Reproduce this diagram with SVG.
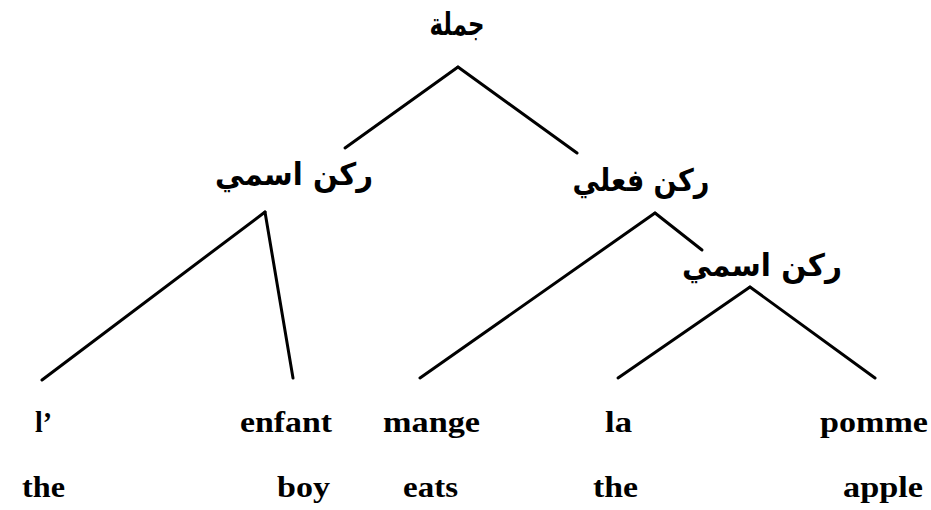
<svg xmlns="http://www.w3.org/2000/svg" width="931" height="510" viewBox="0 0 931 510">
<style>
.ar{font-family:"DejaVu Sans",sans-serif;font-weight:bold;font-size:31px;fill:#000;text-anchor:middle}
.w{font-family:"Liberation Serif","Times New Roman",serif;font-weight:bold;font-size:29px;fill:#000}
.e{stroke:#000;stroke-width:3;stroke-linecap:round;fill:none}
</style>
<rect width="931" height="510" fill="#fff"/>
<g id="connectors">
<line class="e" x1="458" y1="67" x2="345" y2="148"/>
<line class="e" x1="458" y1="67" x2="577" y2="153"/>
<line class="e" x1="265" y1="212" x2="42" y2="380"/>
<line class="e" x1="265" y1="212" x2="293" y2="378"/>
<line class="e" x1="655" y1="213" x2="420" y2="378"/>
<line class="e" x1="655" y1="213" x2="702" y2="250"/>
<line class="e" x1="750" y1="287" x2="618" y2="378"/>
<line class="e" x1="750" y1="287" x2="875" y2="378"/>
</g>
<g id="n-jumla"><text class="ar" x="457" y="35" textLength="55" lengthAdjust="spacingAndGlyphs">جملة</text></g>
<g id="n-np1"><text class="ar" x="294" y="185" textLength="158" lengthAdjust="spacingAndGlyphs">ركن اسمي</text></g>
<g id="n-vp"><text class="ar" x="641" y="191" textLength="137" lengthAdjust="spacingAndGlyphs">ركن فعلي</text></g>
<g id="n-np2"><text class="ar" x="762" y="276" textLength="160" lengthAdjust="spacingAndGlyphs">ركن اسمي</text></g>
<g id="n-l"><text class="w" x="35" y="432" textLength="17" lengthAdjust="spacingAndGlyphs">l’</text><text class="w" x="22" y="497" textLength="43" lengthAdjust="spacingAndGlyphs">the</text></g>
<g id="n-enfant"><text class="w" x="240" y="432" textLength="92" lengthAdjust="spacingAndGlyphs">enfant</text><text class="w" x="277" y="497" textLength="53" lengthAdjust="spacingAndGlyphs">boy</text></g>
<g id="n-mange"><text class="w" x="383" y="432" textLength="97" lengthAdjust="spacingAndGlyphs">mange</text><text class="w" x="403" y="497" textLength="55" lengthAdjust="spacingAndGlyphs">eats</text></g>
<g id="n-la"><text class="w" x="605" y="432" textLength="27" lengthAdjust="spacingAndGlyphs">la</text><text class="w" x="593" y="497" textLength="45" lengthAdjust="spacingAndGlyphs">the</text></g>
<g id="n-pomme"><text class="w" x="820" y="432" textLength="108" lengthAdjust="spacingAndGlyphs">pomme</text><text class="w" x="843" y="497" textLength="80" lengthAdjust="spacingAndGlyphs">apple</text></g>
</svg>
